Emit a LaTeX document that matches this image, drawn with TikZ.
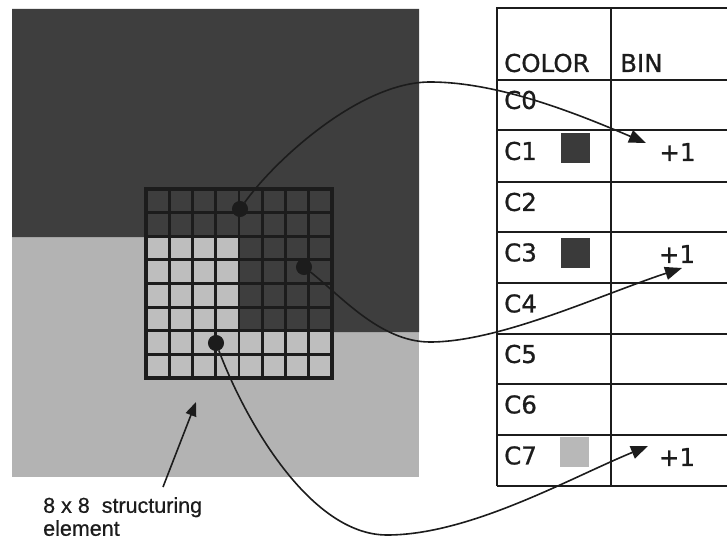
\documentclass[tikz,border=0pt]{standalone}
\usepackage{fontspec}
\setmainfont{DejaVu Sans}
\newfontfamily\tabfont[FakeBold=0.8]{DejaVu Sans}
\newfontfamily\labfont[FakeBold=0.6]{Liberation Sans}
\usetikzlibrary{arrows.meta}
\definecolor{imgdark}{HTML}{3E3E3E}
\definecolor{imglight}{HTML}{B3B3B3}
\definecolor{celllight}{HTML}{BEBEBE}
\definecolor{ink}{HTML}{1C1C1C}
\definecolor{swdark}{HTML}{3A3A3A}
\definecolor{swlight}{HTML}{B8B8B8}
\begin{document}
\begin{tikzpicture}[x=1pt,y=-1pt,
  tabline/.style={draw=ink,line width=1.8pt},
  tabtext/.style={anchor=west,inner sep=0pt,font=\tabfont\fontsize{24.5}{28}\selectfont,text=ink},
  bintext/.style={anchor=center,inner sep=0pt,font=\tabfont\fontsize{24.5}{28}\selectfont,text=ink},
  swatch/.style={minimum width=29pt,minimum height=30pt,inner sep=0pt,draw=none},
  dot/.style={circle,fill=ink,draw=ink,line width=1pt,minimum size=15pt,inner sep=0pt},
  conn/.style={draw=ink,line width=1.6pt,-{Triangle[length=17pt,width=13pt]}},
  labconn/.style={draw=ink,line width=1.6pt,-{Triangle[length=14pt,width=11pt]}},
  gridline/.style={draw=ink,line width=2.8pt},
]
\useasboundingbox (0,0) rectangle (727,540);
\fill[white] (0,0) rectangle (727,540);
% image
\fill[imglight] (12,9) rectangle (419,477);
\fill[imgdark] (12,9) -- (419,9) -- (419,332) -- (239,332) -- (239,237) -- (12,237) -- cycle;
\fill[celllight] (146,236.25) rectangle (239,378);
\fill[celllight] (239,330.75) rectangle (332,378);
\foreach \i in {1,...,7} {
  \draw[gridline] ({146+\i*23.25},189) -- ({146+\i*23.25},378);
  \draw[gridline] (146,{189+\i*23.625}) -- (332,{189+\i*23.625});
}
\draw[ink,line width=4pt] (146,189) rectangle (332,378);
% dots
\node[dot] (d1) at (240,209) {};
\node[dot] (d2) at (304,267) {};
\node[dot] (d3) at (216,343) {};
% table
\draw[tabline] (727,8) -- (497,8) -- (497,486);
\draw[tabline] (611,8) -- (611,486);
\foreach \y in {80,130,182,232,283,334,384,435,486} \draw[tabline] (497,\y) -- (727,\y);
\node[tabtext] (hcol) at (504,63) {COLOR};
\node[tabtext] (hbin) at (620,63) {BIN};
\node[tabtext] (c0) at (504,100) {C0};
\node[tabtext] (c1) at (504,151) {C1};
\node[tabtext] (c2) at (504,202) {C2};
\node[tabtext] (c3) at (504,252.5) {C3};
\node[tabtext] (c4) at (504,303.5) {C4};
\node[tabtext] (c5) at (504,354) {C5};
\node[tabtext] (c6) at (504,404.5) {C6};
\node[tabtext] (c7) at (504,455.5) {C7};
\node[swatch,fill=swdark] (s1) at (575.5,148) {};
\node[swatch,fill=swdark] (s3) at (575,252.5) {};
\node[swatch,fill=swlight] (s7) at (574,452) {};
\node[bintext] (p1) at (677.5,152) {+1};
\node[bintext] (p3) at (677,254) {+1};
\node[bintext] (p7) at (677,457) {+1};
% connectors
\coordinate (m1) at (430,82);
\coordinate (m2) at (430,342);
\coordinate (m3) at (387,535);
\coordinate (t1) at (646,143);
\coordinate (t3) at (682,268);
\coordinate (t7) at (648,446);
\draw[conn] (d1) .. controls (275,160) and (360,82) .. (m1) .. controls (500,82) and (580,115) .. (t1);
\draw[conn] (d2) .. controls (340,295) and (380,342) .. (m2) .. controls (500,342) and (600,295) .. (t3);
\draw[conn] (d3) .. controls (245,420) and (310,535) .. (m3) .. controls (470,535) and (570,478) .. (t7);
% label
\node[anchor=north west,align=left,inner sep=0pt,text=ink,font=\labfont\fontsize{21.5}{23}\selectfont] (lab) at (43,497) {8 x 8\ \ structuring\\element};
\coordinate (lt) at (163,487);
\coordinate (lh) at (196,402);
\draw[labconn] (lt) -- (lh);
\end{tikzpicture}
\end{document}
